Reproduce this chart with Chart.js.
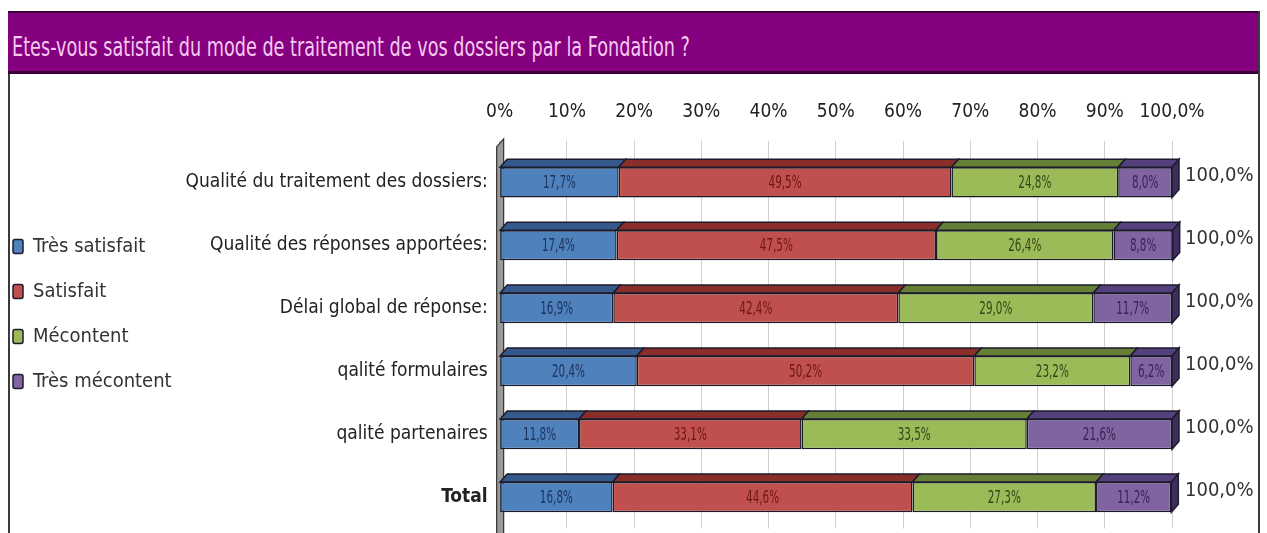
<!DOCTYPE html>
<html lang="fr">
<head>
<meta charset="utf-8">
<title>Satisfaction</title>
<script src="https://cdn.jsdelivr.net/npm/chart.js@4.4.1/dist/chart.umd.min.js"></script>
<style>
  html, body { margin: 0; padding: 0; background: #fff; overflow: hidden; }
  #frame {
    position: absolute; left: 8px; top: 11px; width: 1248px; height: 560px;
    border-left: 2px solid #3a3a3a; border-right: 2px solid #3a3a3a;
  }
  #titleBar {
    position: absolute; left: 8px; top: 11px; width: 1250px; height: 58px;
    background: #84007e; border-top: 2px solid #3c0038; border-bottom: 3px solid #3c0038;
    box-sizing: content-box;
  }
  #titleBar span {
    position: absolute; left: 4px; top: 18px; white-space: nowrap;
    font-family: 'Liberation Sans Narrow', 'Arial Narrow', 'DejaVu Sans Condensed', sans-serif;
    font-size: 27px; color: #f6c8f2; transform-origin: 0 50%;
  }
  #box { position: absolute; left: -12px; top: 74px; width: 1269px; height: 470px; }
</style>
</head>
<body>
<div id="frame"></div>
<div id="titleBar"><span id="titleText">Etes-vous satisfait du mode de traitement de vos dossiers par la Fondation ?</span></div>
<div id="box"><canvas id="chart"></canvas></div>
<script>
const categories = [
  'Qualité du traitement des dossiers:',
  'Qualité des réponses apportées:',
  'Délai global de réponse:',
  'qalité formulaires',
  'qalité partenaires',
  'Total'
];
const seriesNames = ['Très satisfait', 'Satisfait', 'Mécontent', 'Très mécontent'];
const tresSatisfait = [17.7, 17.4, 16.9, 20.4, 11.8, 16.8];
const satisfait     = [49.5, 47.5, 42.4, 50.2, 33.1, 44.6];
const mecontent     = [24.8, 26.4, 29.0, 23.2, 33.5, 27.3];
const tresMecontent = [8.0, 8.8, 11.7, 6.2, 21.6, 11.2];
const rowTotals     = [100.0, 100.0, 100.0, 100.0, 100.0, 100.0];
const xTicks        = [0, 10, 20, 30, 40, 50, 60, 70, 80, 90, 100];

const FONT = "'Liberation Sans Narrow', 'Arial Narrow', 'DejaVu Sans Condensed', sans-serif";
const frontColors = ['#4f81bd', '#c0504d', '#9bbb59', '#8064a2'];
const topColors   = ['#34598a', '#8a2e2b', '#667f36', '#54407a'];
const textColors  = ['#1c3560', '#6e1614', '#33461a', '#352552'];
const sideColor   = '#3e2e60';
const DEPTH_X = 7, DEPTH_Y = 8;

// squeeze the title so it sits like the original header
const titleEl = document.getElementById('titleText');
titleEl.style.transform = 'scaleX(' + (678 / titleEl.getBoundingClientRect().width) + ')';

const pct = v => v.toFixed(1).replace('.', ',') + '%';

// back wall on the left plus the top and side faces of each bar
const bar3d = {
  id: 'bar3d',
  beforeDatasetsDraw(chart) {
    const { ctx, chartArea: a } = chart;
    ctx.save();
    ctx.beginPath();
    ctx.moveTo(a.left - 3, a.top - 4);
    ctx.lineTo(a.left - 3 + DEPTH_X, a.top - 4 - DEPTH_Y);
    ctx.lineTo(a.left - 3 + DEPTH_X, a.bottom + 20);
    ctx.lineTo(a.left - 3, a.bottom + 20);
    ctx.closePath();
    ctx.fillStyle = '#9a9a9a';
    ctx.fill();
    ctx.strokeStyle = '#333';
    ctx.lineWidth = 1.2;
    ctx.stroke();
    ctx.restore();
  },
  afterDatasetsDraw(chart) {
    const { ctx } = chart;
    ctx.save();
    ctx.lineWidth = 1.5;
    ctx.strokeStyle = '#1b1b2b';
    const last = chart.data.datasets.length - 1;
    chart.data.datasets.forEach((ds, di) => {
      chart.getDatasetMeta(di).data.forEach(el => {
        const x0 = Math.min(el.x, el.base), x1 = Math.max(el.x, el.base);
        const top = el.y - el.height / 2, bottom = el.y + el.height / 2;
        ctx.beginPath();
        ctx.moveTo(x0, top);
        ctx.lineTo(x0 + DEPTH_X, top - DEPTH_Y);
        ctx.lineTo(x1 + DEPTH_X, top - DEPTH_Y);
        ctx.lineTo(x1, top);
        ctx.closePath();
        ctx.fillStyle = topColors[di];
        ctx.fill();
        ctx.stroke();
        if (di === last) {
          ctx.beginPath();
          ctx.moveTo(x1, top);
          ctx.lineTo(x1 + DEPTH_X, top - DEPTH_Y);
          ctx.lineTo(x1 + DEPTH_X, bottom - DEPTH_Y);
          ctx.lineTo(x1, bottom);
          ctx.closePath();
          ctx.fillStyle = sideColor;
          ctx.fill();
          ctx.stroke();
        }
      });
    });
    ctx.restore();
  }
};

// value inside each segment (narrowed) and the row total on the right
const barLabels = {
  id: 'barLabels',
  afterDatasetsDraw(chart) {
    const { ctx, chartArea: a } = chart;
    ctx.save();
    ctx.textAlign = 'center';
    ctx.textBaseline = 'middle';
    ctx.font = '17px ' + FONT;
    chart.data.datasets.forEach((ds, di) => {
      chart.getDatasetMeta(di).data.forEach((el, i) => {
        ctx.save();
        ctx.translate((el.x + el.base) / 2, el.y + 1);
        ctx.scale(0.68, 1);
        ctx.fillStyle = textColors[di];
        ctx.fillText(pct(ds.data[i]), 0, 0);
        ctx.restore();
      });
    });
    ctx.textAlign = 'left';
    ctx.font = '20px ' + FONT;
    ctx.fillStyle = '#333';
    chart.getDatasetMeta(0).data.forEach((el, i) => {
      ctx.fillText(pct(rowTotals[i]), a.right + DEPTH_X + 6, el.y - 6);
    });
    ctx.restore();
  }
};

const seriesData = [tresSatisfait, satisfait, mecontent, tresMecontent];

new Chart(document.getElementById('chart'), {
  type: 'bar',
  data: {
    labels: categories,
    datasets: seriesNames.map((name, i) => ({
      label: name,
      data: seriesData[i],
      backgroundColor: frontColors[i],
      borderColor: '#1b1b2b',
      borderWidth: 1.5,
      borderSkipped: false,
      categoryPercentage: 1,
      barPercentage: 0.48
    }))
  },
  options: {
    indexAxis: 'y',
    responsive: true,
    maintainAspectRatio: false,
    animation: false,
    layout: { padding: { top: 10, right: 85, bottom: 0, left: 0 } },
    scales: {
      x: {
        position: 'top',
        stacked: true,
        min: 0,
        max: 100,
        afterBuildTicks: s => { s.ticks = xTicks.map(v => ({ value: v })); },
        ticks: {
          padding: 17,
          color: '#222',
          maxRotation: 0,
          minRotation: 0,
          autoSkip: false,
          font: { family: FONT, size: 19 },
          callback: v => v === 100 ? '100,0%' : v + '%'
        },
        grid: { color: '#cfcfcf', borderDash: [4, 10], tickLength: 10, tickColor: '#cfcfcf' },
        border: { display: false }
      },
      y: {
        stacked: true,
        afterFit: s => { s.width = 318; },
        ticks: {
          padding: 4,
          color: '#222',
          font: c => ({ family: FONT, size: 19, weight: c.index === 5 ? 'bold' : 'normal' })
        },
        grid: { display: false },
        border: { display: false }
      }
    },
    plugins: {
      title: { display: false },
      tooltip: { enabled: false },
      legend: {
        position: 'left',
        align: 'center',
        labels: {
          color: '#333',
          font: { family: FONT, size: 20 },
          boxWidth: 10,
          boxHeight: 14,
          padding: 25,
          useBorderRadius: true,
          borderRadius: 2
        }
      }
    }
  },
  plugins: [bar3d, barLabels]
});
</script>
</body>
</html>
